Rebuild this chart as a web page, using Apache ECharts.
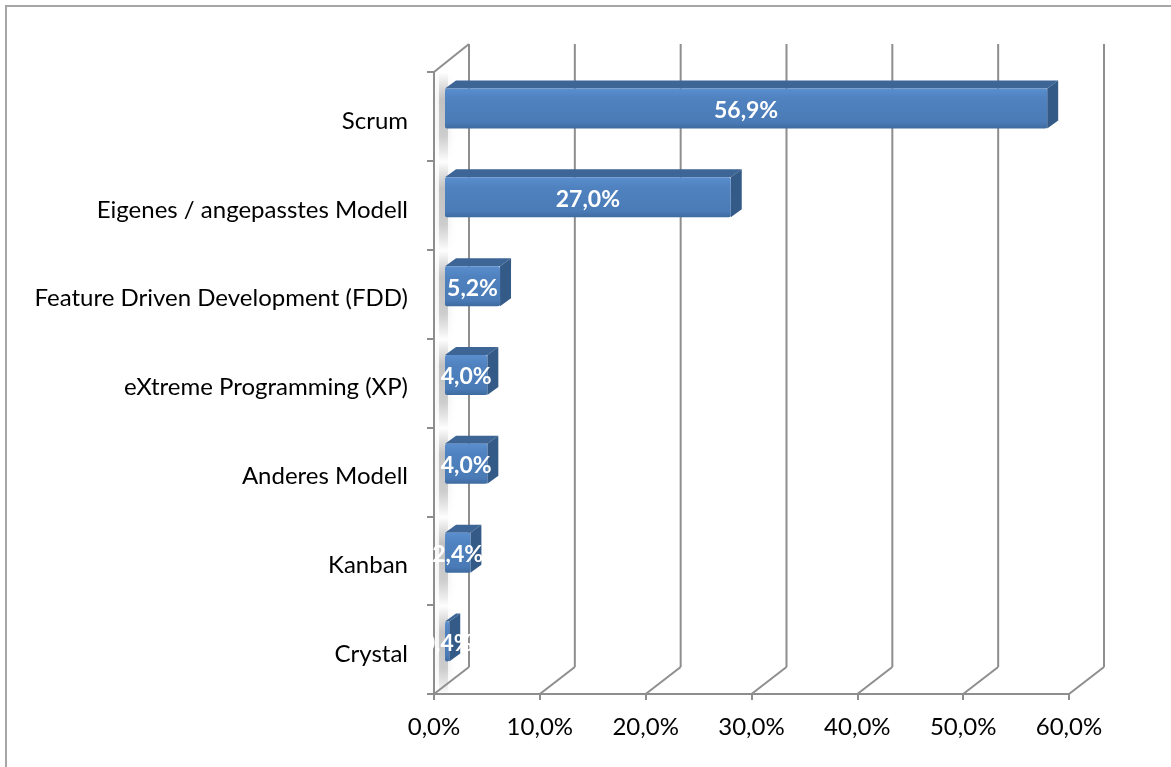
<!DOCTYPE html>
<html>
<head>
<meta charset="utf-8">
<script src="https://cdn.jsdelivr.net/npm/echarts@6/dist/echarts.min.js"></script>
<style>
html,body{margin:0;padding:0;background:#fff;}
#chart{width:1171px;height:767px;}
</style>
</head>
<body>
<div id="chart"></div>
<script>
const categories = ['Scrum', 'Eigenes / angepasstes Modell', 'Feature Driven Development (FDD)', 'eXtreme Programming (XP)', 'Anderes Modell', 'Kanban', 'Crystal'];
const values = [56.9, 27.0, 5.2, 4.0, 4.0, 2.4, 0.4];
const xTicks = [0, 10, 20, 30, 40, 50, 60];

const FONT = 'Lato';
const GRID_COLOR = '#8e8e8e';
const WALL_DX = 35, WALL_DY = -27;
const B1X = 11, B1Y = -8, B2X = 22, B2Y = -16;

function fmt(v) { return v.toFixed(1).replace('.', ',') + '%'; }

const chart = echarts.init(document.getElementById('chart'));

chart.setOption({
  animation: false,
  backgroundColor: '#fff',
  graphic: [
    { type: 'line', shape: { x1: 6, y1: 5, x2: 6, y2: 767 }, style: { stroke: '#a6a6a6', lineWidth: 2 } },
    { type: 'line', shape: { x1: 5, y1: 6, x2: 1171, y2: 6 }, style: { stroke: '#a6a6a6', lineWidth: 2 } }
  ],
  grid: { left: 434, right: 102, top: 72, bottom: 73, containLabel: false },
  xAxis: {
    type: 'value', min: 0, max: 60, interval: 10,
    axisLine: { show: true, lineStyle: { color: GRID_COLOR, width: 2 } },
    axisTick: { show: true, length: 6, lineStyle: { color: GRID_COLOR, width: 2 } },
    splitLine: { show: false },
    axisLabel: { formatter: fmt, color: '#000', fontSize: 24, fontFamily: FONT, margin: 21 }
  },
  yAxis: {
    type: 'category', inverse: true, data: categories,
    axisLine: { show: true, lineStyle: { color: GRID_COLOR, width: 2 } },
    axisTick: { show: true, length: 7, lineStyle: { color: GRID_COLOR, width: 2 } },
    axisLabel: {
      color: '#000', fontSize: 24, fontFamily: FONT, margin: 26,
      formatter: function (v) { return '{a|' + v + '}'; },
      rich: { a: { color: '#000', fontSize: 24, fontFamily: FONT, padding: [9, 0, 0, 0] } }
    }
  },
  series: [
    {
      type: 'custom',
      name: 'walls',
      z: 1,
      silent: true,
      data: xTicks.map(v => [v, 0]),
      renderItem: function (params, api) {
        const cs = params.coordSys;
        const x = api.coord([api.value(0), 0])[0];
        const top = cs.y, bottom = cs.y + cs.height;
        const ls = { stroke: GRID_COLOR, lineWidth: 2 };
        const children = [
          { type: 'line', shape: { x1: x, y1: bottom, x2: x + WALL_DX, y2: bottom + WALL_DY }, style: ls },
          { type: 'line', shape: { x1: x + WALL_DX, y1: bottom + WALL_DY, x2: x + WALL_DX, y2: top + WALL_DY - 1 }, style: ls }
        ];
        if (api.value(0) === 0) {
          children.push({ type: 'line', shape: { x1: x, y1: top, x2: x + WALL_DX, y2: top + WALL_DY - 1 }, style: ls });
        }
        return { type: 'group', children: children };
      }
    },
    {
      type: 'custom',
      name: 'bars',
      z: 3,
      data: values.map((v, i) => [v, i]),
      renderItem: function (params, api) {
        const v = api.value(0), i = api.value(1);
        const c0 = api.coord([0, i]);
        const c1 = api.coord([v, i]);
        const band = api.size([0, 1])[1];
        const h = band * 0.45;
        const x0 = c0[0] + B1X, x1 = c1[0] + B1X;
        const yc = c0[1] + B1Y;
        const yT = yc - h / 2, yB = yc + h / 2;
        const dx = B2X - B1X, dy = B2Y - B1Y;
        const children = [];
        // wall reflection shading
        children.push({
          type: 'rect',
          shape: { x: c0[0] + 5, y: yT - 16, width: 9, height: h + 50 },
          style: {
            fill: new echarts.graphic.LinearGradient(0, 0, 0, 1, [
              { offset: 0, color: 'rgba(150,150,150,0)' },
              { offset: 0.3, color: 'rgba(150,150,150,0.5)' },
              { offset: 0.7, color: 'rgba(150,150,150,0.4)' },
              { offset: 1, color: 'rgba(150,150,150,0)' }
            ]),
            shadowBlur: 8, shadowColor: 'rgba(150,150,150,0.5)'
          }
        });
        // top face
        children.push({
          type: 'polygon',
          shape: { points: [[x0, yT], [x1, yT], [x1 + dx, yT + dy], [x0 + dx, yT + dy]] },
          style: { fill: '#3d6595' }
        });
        // side face
        children.push({
          type: 'polygon',
          shape: { points: [[x1, yT], [x1 + dx, yT + dy], [x1 + dx, yB + dy], [x1, yB]] },
          style: { fill: '#345a88' }
        });
        // front face
        children.push({
          type: 'rect',
          shape: { x: x0, y: yT, width: Math.max(x1 - x0, 1), height: h, r: 2 },
          style: {
            fill: new echarts.graphic.LinearGradient(0, 0, 0, 1, [
              { offset: 0, color: '#5b8ece' },
              { offset: 0.25, color: '#4f82bf' },
              { offset: 0.85, color: '#4a7bb7' },
              { offset: 1, color: '#3e6a9f' }
            ])
          }
        });
        // label
        children.push({
          type: 'text',
          z2: 10,
          style: {
            text: fmt(v), x: (x0 + x1) / 2, y: yc + 2,
            align: 'center', verticalAlign: 'middle',
            fill: '#fff', fontSize: 23, fontWeight: 'bold', fontFamily: FONT
          }
        });
        return { type: 'group', children: children };
      }
    }
  ]
});
</script>
</body>
</html>
